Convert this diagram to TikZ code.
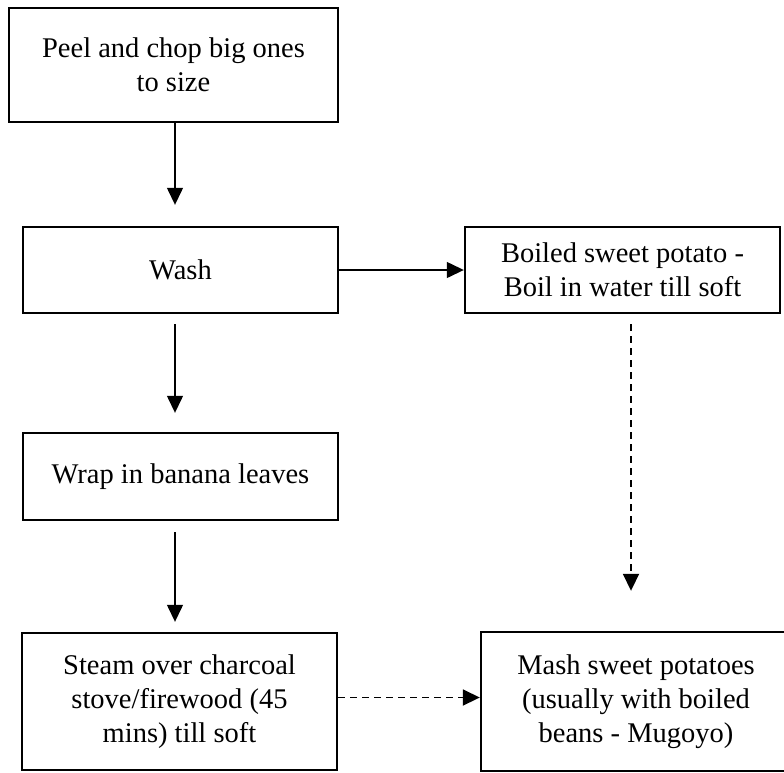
\documentclass[tikz,border=0pt]{standalone}
\usepackage{fontspec}
\setmainfont{Liberation Serif}
\usetikzlibrary{arrows.meta}
\begin{document}
\begin{tikzpicture}[x=1pt,y=-1pt,
  box/.style={draw=black,line width=2.4pt,align=center,inner sep=0pt,
    font=\fontsize{28.5}{34}\selectfont},
  arr/.style={-{Triangle[length=17pt,width=16pt]},line width=1.3pt},
  dasharr/.style={arr,line width=1.8pt,dash pattern=on 7pt off 5pt}]
\useasboundingbox (0,0) rectangle (784,772);
\node[box,minimum width=329pt,minimum height=114pt] (peel) at (173.5,65) {Peel and chop big ones\\to size};
\node[box,minimum width=315pt,minimum height=86pt] (wash) at (180.5,270) {Wash};
\node[box,minimum width=315pt,minimum height=86pt] (boil) at (622.5,270) {Boiled sweet potato -\\Boil in water till soft};
\node[box,minimum width=315pt,minimum height=87pt] (wrap) at (180.5,476.5) {Wrap in banana leaves};
\node[box,minimum width=315pt,minimum height=137pt] (steam) at (179.5,701.5) {Steam over charcoal\\stove/firewood (45\\mins) till soft};
\node[box,minimum width=310pt,minimum height=139pt] (mash) at (636,701.5) {Mash sweet potatoes\\(usually with boiled\\beans - Mugoyo)};
\draw[arr,shorten >=21pt] ([xshift=1.5pt]peel.south) -- ([xshift=-5.5pt]wash.north);
\draw[arr,shorten <=10pt,shorten >=19pt] ([xshift=-5.5pt]wash.south) -- ([xshift=-5.5pt]wrap.north);
\draw[arr,shorten <=11pt,shorten >=10pt] ([xshift=-5.5pt]wrap.south) -- ([xshift=-4.5pt]steam.north);
\draw[arr] (wash.east) -- (boil.west);
\draw[dasharr,shorten <=10pt,shorten >=40pt] ([xshift=8.5pt]boil.south) -- ([xshift=8.5pt]boil.south |- mash.north);
\draw[dasharr] ([yshift=4pt]steam.east) -- ([yshift=4pt]steam.east -| mash.west);
\end{tikzpicture}
\end{document}
